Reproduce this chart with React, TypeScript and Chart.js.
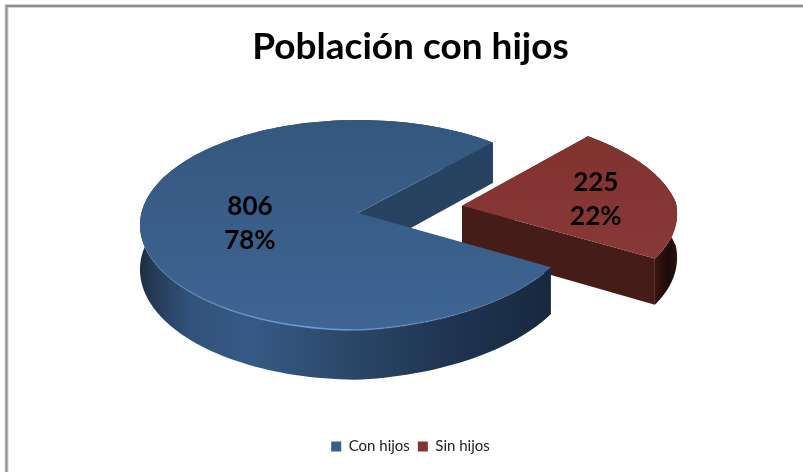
import React, { useEffect, useRef } from "react";
import { Chart, registerables } from "chart.js";

Chart.register(...registerables);

const titleText = "Población con hijos";
const categories = ["Con hijos", "Sin hijos"];
const values = [806, 225];
const sliceColors = ["#3a5f8f", "#843430"];
const explode = [0, 0.49];
const labelRadii = [0.5, 0.64];

const VIEW = { cx: 358, cy: 213, R: 216.6, Rv: 103.6, k: 0.1143, depth: 44 };

type Pt = [number, number];
const project = (u: number, v: number): Pt => {
  const w = 1 - VIEW.k * v;
  // the front right quadrant of the reference's view is slightly foreshortened
  const t = Math.max(u, 0) * Math.max(v + 0.1, 0);
  return [
    VIEW.cx + ((VIEW.R * u) / w) * (1 - 0.042 * t),
    VIEW.cy + ((VIEW.Rv * v) / w) * (1 - 0.085 * t),
  ];
};
const depthAt = (v: number) => VIEW.depth / (1 - VIEW.k * v);

const path = (ctx: CanvasRenderingContext2D, pts: Pt[]) => {
  ctx.beginPath();
  pts.forEach((p, i) => (i ? ctx.lineTo(p[0], p[1]) : ctx.moveTo(p[0], p[1])));
  ctx.closePath();
};

const pie3d = {
  id: "pie3d",
  beforeDraw(chart: any) {
    const { ctx } = chart;
    ctx.save();
    ctx.strokeStyle = "#d4d4d4";
    ctx.lineWidth = 4;
    ctx.beginPath();
    ctx.moveTo(6.5, 472);
    ctx.lineTo(6.5, 6);
    ctx.lineTo(803, 6);
    ctx.stroke();
    ctx.strokeStyle = "#8e8e8e";
    ctx.lineWidth = 2;
    ctx.stroke();
    ctx.restore();
  },
  beforeDatasetDraw(chart: any) {
    const ctx: CanvasRenderingContext2D = chart.ctx;
    const arcs = chart.getDatasetMeta(0).data;
    const total = values.reduce((a, b) => a + b, 0);

    const geom = arcs.map((el: any) => {
      const start = el.startAngle;
      const end = el.endAngle;
      const mid = (start + end) / 2;
      const e = (el.options.offset || 0) / 100;
      const ox = e * Math.cos(mid);
      const oy = e * Math.sin(mid);
      const plane: Pt[] = [];
      const n = 160;
      for (let i = 0; i <= n; i++) {
        const a = start + ((end - start) * i) / n;
        plane.push([ox + Math.cos(a), oy + Math.sin(a)]);
      }
      return { start, end, mid, ox, oy, plane };
    });

    const prism = (list: Pt[]) => {
      const top = list.map((p) => project(p[0], p[1]));
      const bottom = list.map((p) => {
        const s = project(p[0], p[1]);
        return [s[0], s[1] + depthAt(p[1])] as Pt;
      });
      return [...top, ...bottom.reverse()];
    };

    // Sin hijos first: the front corner of the large slice overlaps it.
    const red = geom[1];
    const redCentre: Pt = [red.ox, red.oy];
    const redOuter = ctx.createLinearGradient(655, 0, 677, 0);
    redOuter.addColorStop(0, "#3a1613");
    redOuter.addColorStop(0.6, "#1c0907");
    redOuter.addColorStop(1, "#2c1412");
    path(ctx, prism(red.plane));
    ctx.fillStyle = redOuter;
    ctx.fill();
    path(ctx, prism([redCentre, red.plane[red.plane.length - 1]]));
    ctx.fillStyle = "#461c19";
    ctx.fill();
    path(ctx, prism([redCentre, red.plane[0]]));
    ctx.fill();
    path(ctx, [project(red.ox, red.oy), ...red.plane.map((p: Pt) => project(p[0], p[1]))]);
    const redTop = ctx.createLinearGradient(0, 135, 0, 260);
    redTop.addColorStop(0, "#813330");
    redTop.addColorStop(1, "#883836");
    ctx.fillStyle = redTop;
    ctx.fill();

    // Con hijos
    const blue = geom[0];
    const blueCentre: Pt = [blue.ox, blue.oy];
    const wall = ctx.createLinearGradient(140, 0, 549, 0);
    wall.addColorStop(0, "#1c2d42");
    wall.addColorStop(0.03, "#243a55");
    wall.addColorStop(0.12, "#31527a");
    wall.addColorStop(0.27, "#365a86");
    wall.addColorStop(0.5, "#2b4869");
    wall.addColorStop(0.75, "#1f3552");
    wall.addColorStop(1, "#17293f");
    path(ctx, prism(blue.plane));
    ctx.fillStyle = wall;
    ctx.fill();
    path(ctx, prism([blueCentre, blue.plane[blue.plane.length - 1]]));
    ctx.fillStyle = "#284362";
    ctx.fill();
    path(ctx, [project(blue.ox, blue.oy), ...blue.plane.map((p: Pt) => project(p[0], p[1]))]);
    const blueTop = ctx.createLinearGradient(0, 120, 0, 330);
    blueTop.addColorStop(0, "#34577e");
    blueTop.addColorStop(1, "#3f6594");
    ctx.fillStyle = blueTop;
    ctx.fill();

    // Light rim on the front of the top face
    const rim = ctx.createLinearGradient(140, 0, 500, 0);
    rim.addColorStop(0, "rgba(120,165,220,0)");
    rim.addColorStop(0.45, "rgba(110,160,225,0.95)");
    rim.addColorStop(1, "rgba(120,165,220,0)");
    ctx.save();
    const clip = new Path2D();
    clip.rect(0, 238, 803, 234);
    ctx.clip(clip);
    ctx.beginPath();
    blue.plane.forEach((p: Pt, i: number) => {
      const s = project(p[0], p[1]);
      if (i) ctx.lineTo(s[0], s[1]);
      else ctx.moveTo(s[0], s[1]);
    });
    ctx.strokeStyle = rim;
    ctx.lineWidth = 1.6;
    ctx.stroke();
    ctx.restore();

    // Value and percentage labels
    ctx.fillStyle = "#000";
    ctx.font = "bold 26px Lato";
    ctx.textAlign = "center";
    ctx.textBaseline = "middle";
    geom.forEach((g: any, i: number) => {
      const r = labelRadii[i];
      const [x, y] = project(g.ox + r * Math.cos(g.mid), g.oy + r * Math.sin(g.mid));
      ctx.fillText(String(values[i]), x, y - 14);
      ctx.fillText(Math.round((values[i] / total) * 100) + "%", x, y + 20);
    });
    return false;
  },
};

export default function App() {
  const ref = useRef<HTMLCanvasElement>(null);
  useEffect(() => {
    document.body.style.margin = "0";
    const chart = new Chart(ref.current!, {
      type: "pie",
      data: {
        labels: categories,
        datasets: [
          {
            data: values,
            backgroundColor: sliceColors,
            borderWidth: 0,
            offset: explode.map((e) => e * 100),
          },
        ],
      },
      options: {
        responsive: false,
        animation: false,
        rotation: 121,
        layout: { padding: { left: 18, right: 0, top: 0, bottom: 8 } },
        plugins: {
          tooltip: { enabled: false },
          title: {
            display: true,
            text: titleText,
            color: "#000",
            font: { family: "Lato", size: 37, weight: "bold" },
            padding: { top: 25, bottom: 10 },
          },
          legend: {
            position: "bottom",
            labels: {
              color: "#222",
              font: { family: "Lato", size: 15 },
              boxWidth: 10,
              boxHeight: 10,
              padding: 8,
            },
          },
        },
      },
      plugins: [pie3d],
    } as any);
    return () => chart.destroy();
  }, []);
  return (
    <div style={{ position: "absolute", left: 0, top: 0 }}>
      <canvas ref={ref} width={803} height={472} style={{ display: "block" }} />
    </div>
  );
}
